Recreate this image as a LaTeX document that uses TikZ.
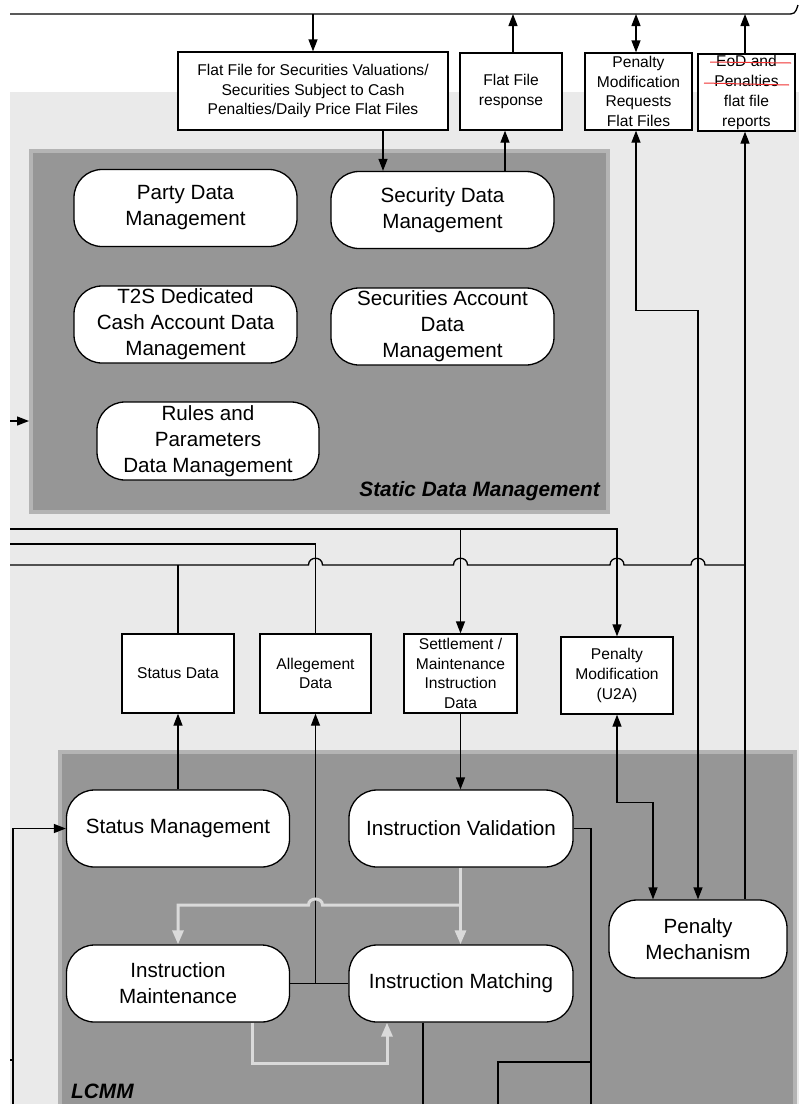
\documentclass[tikz,border=0pt]{standalone}
\usepackage{fontspec}
\setmainfont{Liberation Sans}
\usetikzlibrary{arrows.meta}
\definecolor{bgl}{HTML}{EAEAEA}
\definecolor{boxd}{HTML}{969696}
\definecolor{boxb}{HTML}{B4B4B4}
\definecolor{garrc}{HTML}{DADADA}
\definecolor{strike}{HTML}{F03030}
\begin{document}
\begin{tikzpicture}[x=1pt,y=-1pt,
  group/.style={draw=boxb, fill=boxd, line width=4pt, inner sep=0pt},
  proc/.style={draw=black, fill=white, line width=1.3pt, rounded corners=28pt,
    minimum width=223pt, minimum height=77pt, inner sep=0pt, align=center,
    font=\fontsize{20.6}{26}\selectfont},
  dbox/.style={draw=black, fill=white, line width=1.3pt, inner sep=0pt,
    align=center, font=\fontsize{15.6}{19.8}\selectfont},
  conn/.style={line width=1.3pt, draw=black},
  arr/.style={conn, -{Triangle[length=12pt,width=9pt]}},
  darr/.style={conn, {Triangle[length=12pt,width=9pt]}-{Triangle[length=12pt,width=9pt]}},
  rarr/.style={conn, {Triangle[length=12pt,width=9pt]}-},
  garr/.style={line width=3pt, draw=garrc, -{Triangle[length=14pt,width=11pt]}},
  glabel/.style={font=\fontsize{20.8}{24}\selectfont\bfseries\itshape, inner sep=0pt}
]
\useasboundingbox (0,0) rectangle (799,1104);
\fill[white] (0,0) rectangle (799,1104);
\fill[bgl] (10,92) rectangle (799,1104);

% groups
\node[group, minimum width=577pt, minimum height=361pt] (sdm) at (319.5,331.5) {};
\node[group, minimum width=735pt, minimum height=360pt] (lcmm) at (427.5,932) {};
\node[glabel, anchor=base east] (sdml) at (600,496) {Static Data Management};
\node[glabel, anchor=base west] (lcmml) at (71,1098) {LCMM};

% static data nodes
\node[proc] (party) at (185.5,208) {Party Data\\Management};
\node[proc] (secdm) at (442.5,210) {Security Data\\Management};
\node[proc] (t2s) at (185.5,324.5) {T2S Dedicated\\Cash Account Data\\Management};
\node[proc] (secacc) at (442.5,326.5) {Securities Account\\Data\\Management};
\node[proc, minimum width=222pt, minimum height=78pt] (rules) at (208,441) {Rules and\\Parameters\\Data Management};

% LCMM nodes
\node[proc] (statusm) at (178,828.5) {Status Management};
\node[proc, minimum width=224pt] (instval) at (461,828.5) {Instruction Validation};
\node[proc] (instmaint) at (178,983.5) {Instruction\\Maintenance};
\node[proc, minimum width=224pt] (instmatch) at (461,983.5) {Instruction Matching};
\node[proc, minimum width=178pt, minimum height=78pt] (penmech) at (698,939) {Penalty\\Mechanism};

% top boxes
\node[dbox, minimum width=270pt, minimum height=78pt] (ff) at (313,91) {Flat File for Securities Valuations/\\Securities Subject to Cash\\Penalties/Daily Price Flat Files};
\node[dbox, minimum width=102pt, minimum height=77pt] (ffr) at (511,91.5) {Flat File\\response};
\node[dbox, minimum width=107pt, minimum height=77pt] (pmr) at (638.5,91.5) {Penalty\\Modification\\Requests\\Flat Files};
\node[dbox, minimum width=97pt, minimum height=77pt] (eod) at (746.5,92.5) {EoD and\\Penalties\\flat file\\reports};
\draw[strike, line width=1pt] (710,62) -- (791,63);
\draw[strike, line width=1pt] (704,83) -- (789,85);

% middle boxes
\node[dbox, minimum width=112pt, minimum height=79pt] (statusdata) at (178,673.5) {Status Data};
\node[dbox, minimum width=111pt, minimum height=79pt] (alleg) at (315.5,673.5) {Allegement\\Data};
\node[dbox, minimum width=113pt, minimum height=79pt] (settle) at (460.5,673.5) {Settlement /\\Maintenance\\Instruction\\Data};
\node[dbox, minimum width=112pt, minimum height=77pt] (u2a) at (617,675.5) {Penalty\\Modification\\(U2A)};

% helper coordinates
\coordinate (Y0) at (0,14);
\coordinate (X1) at (383,0);
\coordinate (X2) at (505,0);
\coordinate (X3) at (513,0);
\coordinate (X4) at (636,0);
\coordinate (X5) at (698,0);
\coordinate (X6) at (745,0);
\coordinate (X7) at (653,0);
\coordinate (X8) at (252,0);
\coordinate (X9) at (387,0);
\coordinate (X10) at (591,0);
\coordinate (X11) at (423,0);
\coordinate (X12) at (498,0);
\coordinate (YB) at (0,1106);
\coordinate (YG) at (0,1063);
\coordinate (YH) at (0,905);
\coordinate (L1) at (10,529);
\coordinate (L2) at (10,544);
\coordinate (L3) at (10,565);
\coordinate (LA) at (10,421);
\coordinate (LB) at (13,1106);

% top line
\draw[conn] (10,14) -- (786,14) .. controls (795,14) .. (798,5);

% top connectors
\draw[arr] (ff.north |- Y0) -- (ff.north);
\draw[arr] (ff.south -| X1) -- (secdm.north -| X1);
\draw[arr] (secdm.north -| X2) -- (ffr.south -| X2);
\draw[arr] (ffr.north -| X3) -- (X3 |- Y0);
\draw[darr] (X4 |- Y0) -- (pmr.north -| X4);
\draw[arr] (eod.north -| X6) -- (X6 |- Y0);
\draw[darr] (pmr.south -| X4) -- ++(0,180) -| (penmech.north -| X5);
\draw[rarr] (eod.south -| X6) -- (penmech.north -| X6);

% left arrows
\draw[arr] (LA) -- (LA -| sdm.west);
\draw[arr] (LB) |- (statusm.west);
\draw[conn] (10,1060) -- (13,1060);

% middle horizontal lines
\draw[arr] (L1) -| (u2a.north);
\draw[arr] (settle.north |- L1) -- (settle.north);
\draw[conn] (L2) -| (alleg.north);
\draw[conn] (L3) -- (308.5,565) .. controls (308.5,556) and (322.5,556) .. (322.5,565)
  -- (453.5,565) .. controls (453.5,556) and (467.5,556) .. (467.5,565)
  -- (610,565) .. controls (610,556) and (624,556) .. (624,565)
  -- (691,565) .. controls (691,556) and (705,556) .. (705,565)
  -- (X6 |- L3);
\draw[conn] (statusdata.north |- L3) -- (statusdata.north);

% middle to LCMM
\draw[arr] (statusm.north) -- (statusdata.south);
\draw[arr] (settle.south) -- (settle.south |- instval.north);
\draw[conn] (instmaint.east) -- (instmatch.west);
\draw[arr] (alleg.south |- instmaint.east) -- (alleg.south);
\draw[darr] (u2a.south) -- ++(0,88) -| (penmech.north -| X7);

% gray arrows
\draw[garr] (instval.south -| settle.south) -- (instmatch.north -| settle.south);
\draw[garr] (settle.south |- YH) -- (322.5,905) .. controls (322.5,897) and (308.5,897) .. (308.5,905) -| (instmaint.north);
\draw[garr] (instmaint.south -| X8) -- (X8 |- YG) -- (X9 |- YG) -- (instmatch.south -| X9);

% lower black lines
\draw[conn] (instval.east) -| (X10 |- YB);
\draw[conn] (instmatch.south -| X11) -- (X11 |- YB);
\draw[conn] (X12 |- YB) -- (X12 |- 0,1062) -- (X10 |- 0,1062);
\end{tikzpicture}
\end{document}
